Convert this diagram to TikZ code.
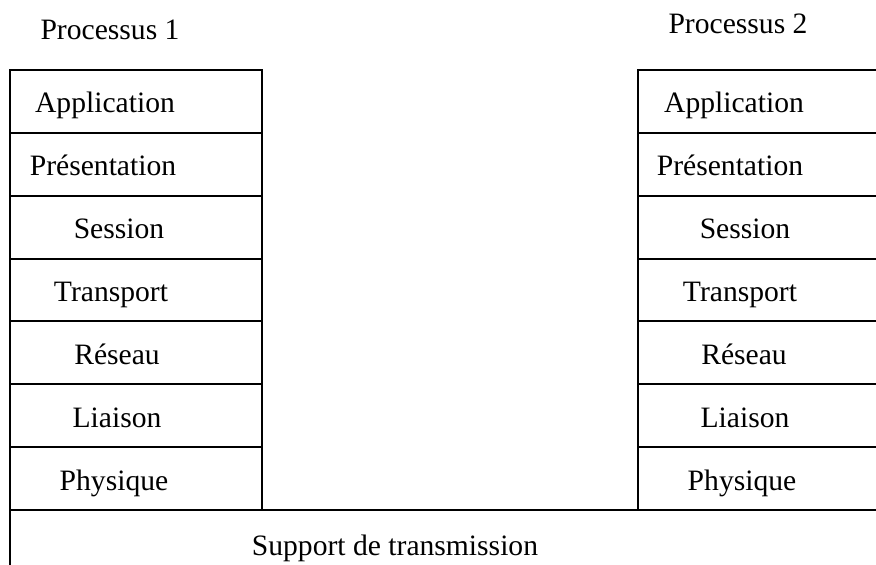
\documentclass[tikz,border=0pt]{standalone}
\usepackage{fontspec}
\setmainfont{Liberation Serif}

\tikzset{
    layer/.style={anchor=base,inner sep=0pt,font=\fontsize{14.8}{17}\selectfont},
}

\begin{document}
\begin{tikzpicture}[x=0.5pt,y=-0.5pt,line width=1pt]
    \pgfmathsetmacro{\ytop}{70}
    \pgfmathsetmacro{\rowh}{62.86}
    \pgfmathsetmacro{\ybot}{\ytop+7*\rowh}
    \useasboundingbox (0,0) rectangle (876,565);
    % Titles above each stack
    \node[layer] (proc1) at (110,40) {Processus 1};
    \node[layer] (proc2) at (738,34) {Processus 2};
    % Draw the seven layers of both stacks
    \foreach \name/\lx/\rx [count=\i] in {Application/105/734,
            Présentation/103/730, Session/119/745, Transport/111/740,
            Réseau/117/744, Liaison/117/745, Physique/114/742} {
        \pgfmathsetmacro{\ya}{\ytop+(\i-1)*\rowh}
        \pgfmathsetmacro{\yb}{\ya+\rowh}
        \draw (10,\ya) rectangle (262,\yb);
        \draw (876,\ya) -- (638,\ya) -- (638,\yb) -- (876,\yb);
        \node[layer] (left\i) at (\lx,\ya+43) {\name};
        \node[layer] (right\i) at (\rx,\ya+43) {\name};
    }
    % Draw the shared medium below
    \draw (10,565) -- (10,\ybot) -- (876,\ybot);
    \node[layer] (support) at (395,555) {Support de transmission};
\end{tikzpicture}
\end{document}
